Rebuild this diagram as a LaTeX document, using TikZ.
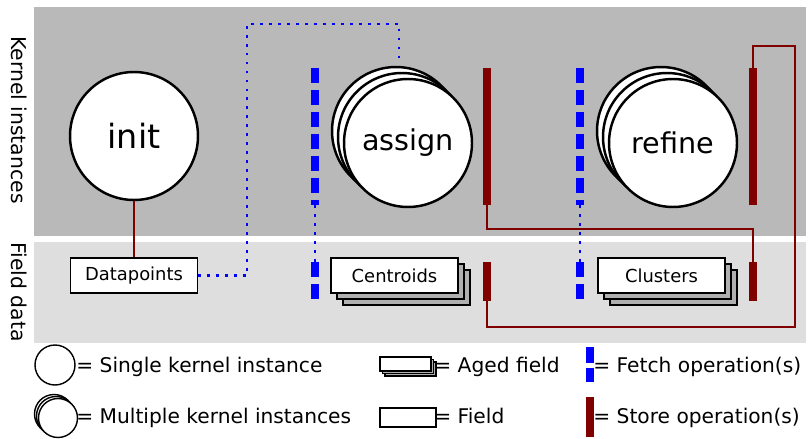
\documentclass[tikz,border=0pt]{standalone}
\usepackage{fontspec}
\setmainfont{DejaVu Sans}
\usepackage{tikz}
\usetikzlibrary{shadows,positioning}

\definecolor{kernelbg}{HTML}{B9B9B9}
\definecolor{fieldbg}{HTML}{DEDEDE}
\definecolor{agedgray}{HTML}{B0B0B0}
\definecolor{storered}{HTML}{800000}

\tikzset{
  kernel/.style={circle,draw,fill=white,line width=1.4pt,minimum size=2.56cm,inner sep=0pt,
    font=\fontsize{16.3}{19}\selectfont},
  multikernel/.style={kernel,
    copy shadow={fill=white,shadow xshift=-0.24cm,shadow yshift=0.24cm},
    copy shadow={fill=white,shadow xshift=-0.12cm,shadow yshift=0.12cm}},
  field/.style={rectangle,draw,fill=white,line width=0.8pt,minimum width=2.54cm,minimum height=0.7cm,
    inner sep=0pt,font=\fontsize{10.2}{12}\selectfont},
  agedfield/.style={field,
    copy shadow={fill=agedgray,shadow xshift=0.24cm,shadow yshift=-0.24cm},
    copy shadow={fill=agedgray,shadow xshift=0.12cm,shadow yshift=-0.12cm}},
  fetchbar/.style={draw=blue,line width=4pt,dash pattern=on 8.5pt off 4pt},
  fetchdots/.style={draw=blue,line width=1.6pt,dash pattern=on 1.6pt off 3.5pt},
  storebar/.style={draw=storered,line width=4pt},
  storeline/.style={draw=storered,line width=1.5pt},
  sidelabel/.style={rotate=-90,inner sep=0pt,font=\fontsize{11.6}{14}\selectfont},
  legendtext/.style={anchor=base west,inner sep=0pt,font=\fontsize{11.5}{14}\selectfont},
}

\begin{document}
\begin{tikzpicture}[x=0.02cm,y=-0.02cm]
  \useasboundingbox (0,0) rectangle (808,439);
  % the two bands
  \fill[kernelbg] (34,7) rectangle (806,236);
  \fill[fieldbg] (34,242) rectangle (806,343);
  \node[sidelabel] (kernlabel) at (19,120) {Kernel instances};
  \node[sidelabel] (fieldlabel) at (19,292) {Field data};

  % kernels
  \node[kernel,font=\fontsize{19}{22}\selectfont] (init) at (134,136) {init};
  \node[multikernel] (assign) at (408,143) {assign};
  \node[multikernel] (refine) at (673,143) {refine};

  % fields
  \node[field] (datapoints) at (134,275.5) {Datapoints};
  \node[agedfield] (centroids) at (394.5,275.5) {Centroids};
  \node[agedfield] (clusters) at (661.5,275.5) {Clusters};

  \draw[storeline] (init) -- (datapoints);
  \coordinate (assignin) at (399,61);
  \draw[fetchdots] (datapoints.east) -| (247,24) -| (assignin);

  % fetch operations
  \coordinate (fetchAtop) at (315,68);
  \coordinate (fetchAmid) at (315,205);
  \coordinate (fetchAlow) at (315,262);
  \coordinate (fetchAbot) at (315,299);
  \coordinate (fetchBtop) at (580,68);
  \coordinate (fetchBmid) at (580,205);
  \coordinate (fetchBlow) at (580,262);
  \coordinate (fetchBbot) at (580,299);
  \draw[fetchbar] (fetchAtop) -- (fetchAmid);
  \draw[fetchdots] (fetchAmid) -- (fetchAlow);
  \draw[fetchbar] (fetchAlow) -- (fetchAbot);
  \draw[fetchbar] (fetchBtop) -- (fetchBmid);
  \draw[fetchdots] (fetchBmid) -- (fetchBlow);
  \draw[fetchbar] (fetchBlow) -- (fetchBbot);

  % store operations
  \coordinate (storeAtop) at (487,68);
  \coordinate (storeAbot) at (487,205);
  \coordinate (storeBtop) at (753,68);
  \coordinate (storeBbot) at (753,205);
  \coordinate (storeCtop) at (487,262);
  \coordinate (storeCbot) at (487,301);
  \coordinate (storeDtop) at (753,262);
  \coordinate (storeDbot) at (753,301);
  \draw[storebar] (storeAtop) -- (storeAbot);
  \draw[storebar] (storeBtop) -- (storeBbot);
  \draw[storebar] (storeCtop) -- (storeCbot);
  \draw[storebar] (storeDtop) -- (storeDbot);
  \draw[storeline] (storeAbot) -- (487,229) -| (storeDtop);
  \draw[storeline] (storeBtop) |- (795,46) -- (795,327) -| (storeCbot);

  % legend
  \node[kernel,minimum size=0.8cm,line width=0.8pt] (lgsingle) at (55,365) {};
  \node[legendtext] (lgsingletxt) at (76,372) {= Single kernel instance};
  \node[kernel,minimum size=0.78cm,line width=0.8pt,
    copy shadow={fill=white,shadow xshift=-0.08cm,shadow yshift=0.08cm},
    copy shadow={fill=white,shadow xshift=-0.04cm,shadow yshift=0.04cm}] (lgmulti) at (58,418) {};
  \node[legendtext] (lgmultitxt) at (76,423) {= Multiple kernel instances};
  \node[field,minimum width=1.02cm,minimum height=0.28cm,
    copy shadow={fill=agedgray,shadow xshift=0.1cm,shadow yshift=-0.1cm},
    copy shadow={fill=agedgray,shadow xshift=0.05cm,shadow yshift=-0.05cm}] (lgaged) at (405.5,364) {};
  \node[legendtext] (lgagedtxt) at (434,372) {= Aged field};
  \node[field,minimum width=1.12cm,minimum height=0.38cm] (lgfield) at (408,417.5) {};
  \node[legendtext] (lgfieldtxt) at (434,423) {= Field};
  \coordinate (lgfetchtop) at (590,347);
  \coordinate (lgfetchbot) at (590,382);
  \coordinate (lgstoretop) at (590,397);
  \coordinate (lgstorebot) at (590,437);
  \draw[fetchbar,dash pattern=on 9pt off 2.8pt] (lgfetchtop) -- (lgfetchbot);
  \draw[storebar] (lgstoretop) -- (lgstorebot);
  \node[legendtext] (lgfetchtxt) at (593,372) {= Fetch operation(s)};
  \node[legendtext] (lgstoretxt) at (593,423) {= Store operation(s)};
\end{tikzpicture}
\end{document}
